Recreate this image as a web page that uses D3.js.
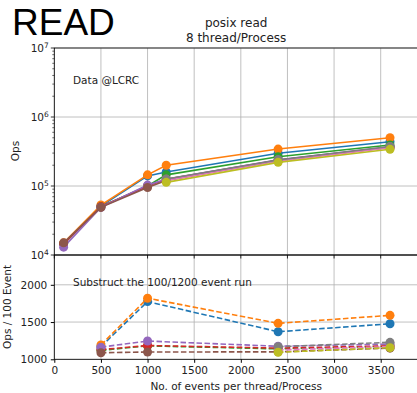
<!DOCTYPE html>
<html><head><meta charset="utf-8">
<script src="https://cdn.jsdelivr.net/npm/d3@7"></script>
<style>
body{margin:0;background:#fff;}
text{font-family:"DejaVu Sans",sans-serif;fill:#222;}
</style></head>
<body><svg id="c" width="417" height="393"></svg>
<script>
// ---- data ----
const xEvents = [100, 500, 1000, 1200, 2400, 3600];
const xDiff = [500, 1000, 2400, 3600];
const colors = ["#1f77b4","#ff7f0e","#2ca02c","#d62728","#9467bd","#8c564b","#e377c2","#7f7f7f","#bcbd22"];
const opsBlue   = [14500, 51000, 140000, 160000, 298000, 438000];
const opsOrange = [15000, 53000, 145000, 200000, 343000, 500000];
const opsGreen  = [14500, 50000, 100000, 145000, 266000, 393000];
const opsRed    = [14500, 50000, 100000, 125000, 235000, 365000];
const opsPurple = [13000, 49000, 103000, 125000, 240000, 370000];
const opsBrown  = [15000, 49000, 95000, 120000, 235000, 365000];
const opsPink   = [null, null, null, 120000, 230000, 360000];
const opsGray   = [null, null, null, 126000, 238000, 373000];
const opsOlive  = [null, null, null, 113000, 220000, 340000];
const diffBlue   = [1170, 1775, 1370, 1477];
const diffOrange = [1192, 1820, 1483, 1590];
const diffGreen  = [1120, 1180, 1140, 1175];
const diffRed    = [1130, 1185, 1150, 1180];
const diffPurple = [1163, 1245, 1175, 1205];
const diffBrown  = [1088, 1098, 1100, 1150];
const diffPink   = [null, null, 1125, 1170];
const diffGray   = [null, null, 1169, 1228];
const diffOlive  = [null, null, 1094, 1156];
const topTicks = [1e4, 1e5, 1e6, 1e7];
const botTicks = [1000, 1500, 2000];
const xTicks = [0, 500, 1000, 1500, 2000, 2500, 3000, 3500];

const opsData = [opsBlue, opsOrange, opsGreen, opsRed, opsPurple, opsBrown, opsPink, opsGray, opsOlive];
const diffData = [diffBlue, diffOrange, diffGreen, diffRed, diffPurple, diffBrown, diffPink, diffGray, diffOlive];

// ---- layout ----
const svg = d3.select("#c");
const L = 54.3, R = 418;
const x = d3.scaleLinear().domain([0, 3900]).range([L, R]);
const yTop = d3.scaleLog().domain([1e4, 1e7]).range([255, 48]);
const yBot = d3.scaleLinear().domain([1000, 2400]).range([359.3, 255]);
const gridC = "#b0b0b0";
const fs = "10.5px";

svg.append("text").attr("x", 12).attr("y", 35).style("font-family", "'Liberation Sans',Arial,sans-serif")
  .style("font-size", "37px").style("fill", "#000").text("READ");
const tcx = (L + R) / 2;
svg.append("text").attr("x", tcx).attr("y", 27).attr("text-anchor", "middle").style("font-size", "12px").text("posix read");
svg.append("text").attr("x", tcx).attr("y", 42).attr("text-anchor", "middle").style("font-size", "12px").text("8 thread/Process");

function panel(yScale, yTicksArr, top, bottom) {
  const g = svg.append("g");
  g.selectAll(".vg").data(xTicks).enter().append("line")
    .attr("x1", d => x(d)).attr("x2", d => x(d)).attr("y1", top).attr("y2", bottom)
    .attr("stroke", gridC).attr("stroke-width", 0.8);
  g.selectAll(".hg").data(yTicksArr).enter().append("line")
    .attr("x1", L).attr("x2", R).attr("y1", d => yScale(d)).attr("y2", d => yScale(d))
    .attr("stroke", gridC).attr("stroke-width", 0.8);
  return g;
}
const gTop = panel(yTop, topTicks, 48, 255);
const gBot = panel(yBot, botTicks, 255, 359.3);

const lineTop = d3.line().defined(d => d[1] != null).x(d => x(d[0])).y(d => yTop(d[1]));
opsData.forEach((arr, i) => {
  const pts = xEvents.map((xv, j) => [xv, arr[j]]);
  const g = gTop.append("g");
  g.append("path").datum(pts).attr("d", lineTop).attr("fill", "none").attr("stroke", colors[i]).attr("stroke-width", 1.6);
  g.selectAll("circle").data(pts.filter(d => d[1] != null)).enter().append("circle")
    .attr("cx", d => x(d[0])).attr("cy", d => yTop(d[1])).attr("r", 4.5).attr("fill", colors[i]);
});
const lineBot = d3.line().defined(d => d[1] != null).x(d => x(d[0])).y(d => yBot(d[1]));
diffData.forEach((arr, i) => {
  const pts = xDiff.map((xv, j) => [xv, arr[j]]);
  const g = gBot.append("g");
  g.append("path").datum(pts).attr("d", lineBot).attr("fill", "none").attr("stroke", colors[i])
    .attr("stroke-width", 1.6).attr("stroke-dasharray", "5.5,2.5");
  g.selectAll("circle").data(pts.filter(d => d[1] != null)).enter().append("circle")
    .attr("cx", d => x(d[0])).attr("cy", d => yBot(d[1])).attr("r", 4.5).attr("fill", colors[i]);
});

function spines(top, bottom) {
  svg.append("rect").attr("x", L).attr("y", top).attr("width", R - L + 10).attr("height", bottom - top)
    .attr("fill", "none").attr("stroke", "#000").attr("stroke-width", 0.8);
}
spines(48, 255);
spines(255, 359.3);

const minor = [];
for (let e = 4; e < 7; e++) for (let m = 2; m <= 9; m++) minor.push(m * Math.pow(10, e));
svg.selectAll(".mt").data(minor).enter().append("line")
  .attr("x1", L - 2).attr("x2", L).attr("y1", d => yTop(d)).attr("y2", d => yTop(d)).attr("stroke", "#000").attr("stroke-width", 0.6);
svg.selectAll(".Mt").data(topTicks).enter().append("line")
  .attr("x1", L - 3.5).attr("x2", L).attr("y1", d => yTop(d)).attr("y2", d => yTop(d)).attr("stroke", "#000").attr("stroke-width", 0.8);
topTicks.forEach(t => {
  const tx = svg.append("text").attr("x", L - 5.5).attr("y", yTop(t) + 4).attr("text-anchor", "end").style("font-size", fs);
  tx.append("tspan").text("10");
  tx.append("tspan").attr("dy", -4.5).style("font-size", "7.5px").text(Math.round(Math.log10(t)));
});
svg.selectAll(".xt0").data(xTicks).enter().append("line")
  .attr("x1", d => x(d)).attr("x2", d => x(d)).attr("y1", 255).attr("y2", 258.5).attr("stroke", "#000").attr("stroke-width", 0.8);

const axB = d3.axisLeft(yBot).tickValues(botTicks).tickSize(3.5).tickPadding(3.5).tickFormat(d3.format("d"));
const gAxB = svg.append("g").attr("transform", `translate(${L},0)`).call(axB);
gAxB.select(".domain").remove();
gAxB.selectAll("text").style("font-size", fs).style("font-family", "'DejaVu Sans',sans-serif").attr("fill", "#222");
const axX = d3.axisBottom(x).tickValues(xTicks).tickSize(3.5).tickPadding(3.5).tickFormat(d3.format("d"));
const gAxX = svg.append("g").attr("transform", `translate(0,359.3)`).call(axX);
gAxX.select(".domain").remove();
gAxX.selectAll("text").style("font-size", fs).style("font-family", "'DejaVu Sans',sans-serif").attr("fill", "#222");

svg.append("text").attr("transform", "translate(19,151) rotate(-90)").attr("text-anchor", "middle").style("font-size", fs).text("Ops");
svg.append("text").attr("transform", "translate(11,307) rotate(-90)").attr("text-anchor", "middle").style("font-size", fs).text("Ops / 100 Event");
svg.append("text").attr("x", tcx).attr("y", 390).attr("text-anchor", "middle").style("font-size", fs).text("No. of events per thread/Process");
svg.append("text").attr("x", 73).attr("y", 84).style("font-size", fs).text("Data @LCRC");
svg.append("text").attr("x", 73).attr("y", 286).style("font-size", fs).text("Substruct the 100/1200 event run");
</script></body></html>
